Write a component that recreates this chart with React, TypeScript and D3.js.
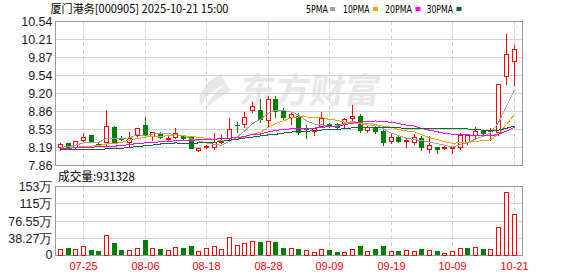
import React from 'react';
import * as d3 from 'd3';

// ---- data ----
const dates = [
  '07-22','07-23','07-24','07-25','07-28','07-29','07-30','07-31','08-01','08-04',
  '08-05','08-06','08-07','08-08','08-11','08-12','08-13','08-14','08-15','08-18',
  '08-19','08-20','08-21','08-22','08-25','08-26','08-27','08-28','08-29','09-01',
  '09-02','09-03','09-04','09-05','09-08','09-09','09-10','09-11','09-12','09-15',
  '09-16','09-17','09-18','09-19','09-22','09-23','09-24','09-25','09-26','09-29',
  '09-30','10-09','10-10','10-13','10-14','10-15','10-16','10-17','10-20','10-21',
];
const opens = [
  8.20, 8.27, 8.20, 8.34, 8.42, 8.265, 8.29, 8.57, 8.37, 8.29,
  8.43, 8.62, 8.41, 8.45, 8.36, 8.39, 8.40, 8.39, 8.15, 8.20,
  8.20, 8.30, 8.37, 8.62, 8.64, 8.89, 8.90, 8.70, 9.10, 8.90,
  8.76, 8.79, 8.55, 8.51, 8.59, 8.64, 8.63, 8.63, 8.74, 8.79,
  8.52, 8.58, 8.51, 8.31, 8.39, 8.32, 8.29, 8.38, 8.16, 8.20,
  8.18, 8.19, 8.20, 8.29, 8.42, 8.51, 8.50, 8.49, 9.52, 9.80,
];
const highs = [
  8.27, 8.27, 8.31, 8.47, 8.42, 8.28, 8.89, 8.60, 8.40, 8.49,
  8.56, 8.77, 8.48, 8.48, 8.42, 8.55, 8.42, 8.40, 8.19, 8.24,
  8.46, 8.42, 8.74, 8.67, 8.85, 9.04, 9.10, 9.16, 9.16, 8.93,
  8.86, 8.83, 8.62, 8.56, 8.85, 8.66, 8.65, 8.75, 8.99, 8.82,
  8.62, 8.60, 8.53, 8.47, 8.40, 8.37, 8.45, 8.40, 8.40, 8.20,
  8.22, 8.21, 8.47, 8.45, 8.57, 8.51, 8.56, 9.37, 10.31, 10.10,
];
const lows = [
  8.15, 8.20, 8.19, 8.29, 8.29, 8.22, 8.23, 8.29, 8.33, 8.20,
  8.40, 8.40, 8.34, 8.38, 8.33, 8.38, 8.35, 8.18, 8.13, 8.19,
  8.17, 8.28, 8.35, 8.48, 8.57, 8.85, 8.67, 8.58, 8.76, 8.72,
  8.64, 8.45, 8.38, 8.42, 8.57, 8.57, 8.55, 8.55, 8.70, 8.48,
  8.48, 8.47, 8.25, 8.27, 8.30, 8.20, 8.26, 8.15, 8.11, 8.10,
  8.17, 8.10, 8.17, 8.26, 8.38, 8.42, 8.34, 8.43, 9.37, 9.35,
];
const closes = [
  8.26, 8.20, 8.31, 8.39, 8.29, 8.24, 8.60, 8.29, 8.36, 8.38,
  8.56, 8.45, 8.48, 8.39, 8.38, 8.46, 8.37, 8.18, 8.19, 8.215,
  8.29, 8.31, 8.54, 8.61, 8.77, 8.97, 8.72, 9.10, 8.87, 8.76,
  8.81, 8.48, 8.54, 8.55, 8.74, 8.59, 8.58, 8.73, 8.79, 8.53,
  8.58, 8.51, 8.29, 8.39, 8.31, 8.33, 8.39, 8.20, 8.24, 8.17,
  8.20, 8.21, 8.42, 8.42, 8.51, 8.47, 8.53, 9.37, 9.93, 10.03,
];
// volume in 万 (10,000 shares)
const volumes = [
  15.5, 16.2, 15.5, 22, 13.2, 9.6, 46.4, 27.2, 11.8, 13.2,
  17.7, 33.9, 17.7, 14, 13.2, 19.1, 17.7, 22, 11, 17.7,
  22, 15.5, 42, 24.3, 28.7, 33.1, 29.4, 33.1, 29.4, 16.2,
  17.7, 15.5, 12.5, 8.8, 14.7, 11.8, 7.4, 8.8, 14.7, 20.6,
  11, 14, 20.6, 11, 9.6, 12.5, 11, 14, 12.5, 9.6,
  6.6, 11, 17.7, 16.2, 19.9, 14, 14, 64, 141.3, 93.1328,
];
const volumeUp = [
  1, 0, 1, 1, 0, 0, 1, 0, 0, 1,
  1, 0, 1, 0, 1, 1, 0, 0, 1, 1,
  1, 1, 1, 1, 1, 1, 0, 1, 0, 0,
  1, 0, 1, 1, 1, 0, 0, 1, 1, 0,
  1, 0, 0, 1, 0, 1, 1, 0, 1, 0,
  1, 1, 1, 0, 1, 0, 1, 1, 1, 1,
];
// moving-average values before a full window is available
const ma5Head = [8.20, 8.21, 8.24, 8.28];
const ma10Head = [8.15, 8.18, 8.20, 8.21, 8.22, 8.23, 8.26, 8.27, 8.29];
const ma20Head = [8.18, 8.18, 8.19, 8.19, 8.20, 8.21, 8.22, 8.22, 8.23, 8.25,
  8.27, 8.28, 8.29, 8.30, 8.31, 8.32, 8.33, 8.33, 8.34];
const ma30Head = [8.15, 8.16, 8.16, 8.16, 8.15, 8.15, 8.17, 8.17, 8.18, 8.20,
  8.21, 8.23, 8.24, 8.26, 8.27, 8.28, 8.27, 8.27, 8.28, 8.28,
  8.29, 8.31, 8.33, 8.35, 8.37, 8.39, 8.41, 8.43, 8.44];

const priceTicks = [7.86, 8.19, 8.53, 8.86, 9.20, 9.54, 9.87, 10.21, 10.54];
const priceTickLabels = ['7.86', '8.19', '8.53', '8.86', '9.20', '9.54', '9.87', '10.21', '10.54'];
const volumeTicks = [0, 38.27, 76.55, 114.8, 153.1];
const volumeTickLabels = ['0', '38.27万', '76.55万', '115万', '153万'];
const axisDates = ['07-25', '08-06', '08-18', '08-28', '09-09', '09-19', '10-09', '10-21'];
const title = '厦门港务[000905] 2025-10-21 15:00';
const volumeTitle = '成交量:931328';
const legendNames = ['5PMA', '10PMA', '20PMA', '30PMA'];

// ---- styles ----
const RED = '#ff0000';
const GREEN = '#008000';
const MA_COLORS = ['#a3a3a3', '#f5a300', '#ff00ff', '#006f2c'];
const FRAME = '#9a9a9a';
const GRID = '#d2d2d2';
const LABEL_FONT = '"Liberation Sans", Arial, sans-serif';

function movingAverage(n: number, head: number[]) {
  return closes.map((c, i) => (i < n - 1 ? head[i] : (d3.mean(closes.slice(i - n + 1, i + 1)) as number)));
}

export default function App() {
  const W = 578, H = 276;
  const left = 55.5, right = 522.5;
  const mainTop = 21.5, mainBottom = 165.5;
  const volTop = 186.5, volBottom = 255.5;

  const x = d3.scaleLinear().domain([0, dates.length - 1]).range([60.5, 514]);
  const y = d3.scaleLinear().domain([7.86, 10.54]).range([mainBottom, mainTop]);
  const yv = d3.scaleLinear().domain([0, 153.1]).range([volBottom, volTop]);

  const col = (i: number) => Math.floor(x(i));
  const py = (v: number) => Math.round(y(v));
  const gridY = (v: number, s: d3.ScaleLinear<number, number>) => Math.floor(s(v) + 0.01) + 0.5;

  const mas = [movingAverage(5, ma5Head), movingAverage(10, ma10Head), movingAverage(20, ma20Head), movingAverage(30, ma30Head)];
  const line = d3.line<number>().x((_, i) => col(i) + 0.5).y((v) => y(v));

  const dateIdx = axisDates.map((d) => dates.indexOf(d));

  return (
    <svg width={W} height={H} style={{ position: 'absolute', left: 0, top: 0, background: '#fff' }}
      xmlns="http://www.w3.org/2000/svg">
      <rect x={0} y={0} width={W} height={H} fill="#fff" />

      {/* watermark */}
      <g opacity={0.9}>
        <path d="M222,74 C206,80 196,95 200,107 C205,98 212,90 226,84 C214,93 207,101 206,108 C216,100 224,94 232,90 C226,86 224,80 222,74 Z"
          fill="#e6e6e8" />
        <text x={240} y={103} fontSize={35} fontWeight={700} fill="#e6e6e8" textLength={140} lengthAdjust="spacingAndGlyphs"
          fontFamily='"Noto Sans CJK SC", sans-serif' transform="skewX(-8) translate(13,0)">东方财富</text>
      </g>

      {/* title & legend */}
      <text x={50.5} y={12.5} fontSize={11.5} fill="#000" fontFamily='"Noto Sans CJK SC", sans-serif'
        textLength={178} lengthAdjust="spacingAndGlyphs">{title}</text>
      {legendNames.map((n, k) => {
        const lx = [306, 343, 385, 426.5][k];
        const sx = [330, 373, 415.5, 456.5][k];
        const tw = [22, 26.5, 27, 26.5][k];
        return (
          <g key={n}>
            <text x={lx} y={12.5} fontSize={10.5} fill="#000" fontFamily='"DejaVu Sans", sans-serif'
              textLength={tw} lengthAdjust="spacingAndGlyphs">{n}</text>
            <rect x={sx} y={7} width={5} height={4} fill={MA_COLORS[k]} />
          </g>
        );
      })}

      {/* main grid */}
      {priceTicks.map((v, k) => (
        <g key={'pt' + k}>
          {k > 0 && k < priceTicks.length - 1 && (
            <line x1={left} x2={right} y1={gridY(v, y)} y2={gridY(v, y)} stroke={GRID} strokeWidth={1} />
          )}
          <text x={52.5} y={y(v)} dy="0.36em" textAnchor="end" fontSize={12.5} fill="#1a1a2a" fontFamily={LABEL_FONT}>
            {priceTickLabels[k]}
          </text>
        </g>
      ))}
      {volumeTicks.map((v, k) => (
        <g key={'vt' + k}>
          {k > 0 && k < volumeTicks.length - 1 && (
            <line x1={left} x2={right} y1={gridY(v, yv)} y2={gridY(v, yv)} stroke={GRID} strokeWidth={1} />
          )}
          <text x={52.5} y={k === 0 ? yv(v) - 1 : yv(v)} dy="0.36em" textAnchor="end" fontSize={12.5} fill="#1a1a2a" fontFamily={LABEL_FONT}>
            {volumeTickLabels[k]}
          </text>
        </g>
      ))}
      {dateIdx.map((i, k) => (
        <g key={'d' + k}>
          <line x1={col(i) + 0.5} x2={col(i) + 0.5} y1={mainTop} y2={mainBottom} stroke={GRID} strokeDasharray="4,3" />
          <line x1={col(i) + 0.5} x2={col(i) + 0.5} y1={volTop} y2={volBottom} stroke={GRID} strokeDasharray="4,3" />
          <text x={col(i) + 0.5} y={269.5} textAnchor="middle" fontSize={11} fill={RED} fontFamily={LABEL_FONT}>
            {axisDates[k]}
          </text>
        </g>
      ))}

      {/* frames */}
      <rect x={left} y={mainTop} width={right - left} height={mainBottom - mainTop} fill="none" stroke={FRAME} />
      <rect x={left} y={volTop} width={right - left} height={volBottom - volTop} fill="none" stroke={FRAME} />

      {/* candles */}
      {dates.map((d, i) => {
        const c = col(i);
        const up = closes[i] >= opens[i];
        const top = py(Math.max(opens[i], closes[i]));
        const bot = py(Math.min(opens[i], closes[i]));
        const color = up ? RED : GREEN;
        return (
          <g key={'c' + i}>
            <line x1={c + 0.5} x2={c + 0.5} y1={py(highs[i])} y2={py(lows[i]) + 1} stroke={color} />
            {up ? (
              <rect x={c - 1.5} y={top + 0.5} width={4} height={Math.max(1, bot - top)} fill="#fff" stroke={color} />
            ) : (
              <rect x={c - 2} y={top} width={5} height={Math.max(1, bot - top + 1)} fill={color} />
            )}
          </g>
        );
      })}

      {/* moving averages */}
      {mas.map((m, k) => (
        <path key={'ma' + k} d={line(m) as string} fill="none" stroke={MA_COLORS[k]} strokeWidth={1}
          shapeRendering="crispEdges" />
      ))}

      {/* volume */}
      <text x={58} y={181} fontSize={12} fill="#000" fontFamily='"Noto Sans CJK SC", sans-serif'
        textLength={77} lengthAdjust="spacingAndGlyphs">{volumeTitle}</text>
      {volumes.map((v, i) => {
        const c = col(i);
        const t = Math.round(yv(v));
        return volumeUp[i] ? (
          <rect key={'v' + i} x={c - 1.5} y={t + 0.5} width={4} height={255 - t} fill="#fff" stroke={RED} />
        ) : (
          <rect key={'v' + i} x={c - 2} y={t} width={5} height={255 - t} fill={GREEN} />
        );
      })}
    </svg>
  );
}
